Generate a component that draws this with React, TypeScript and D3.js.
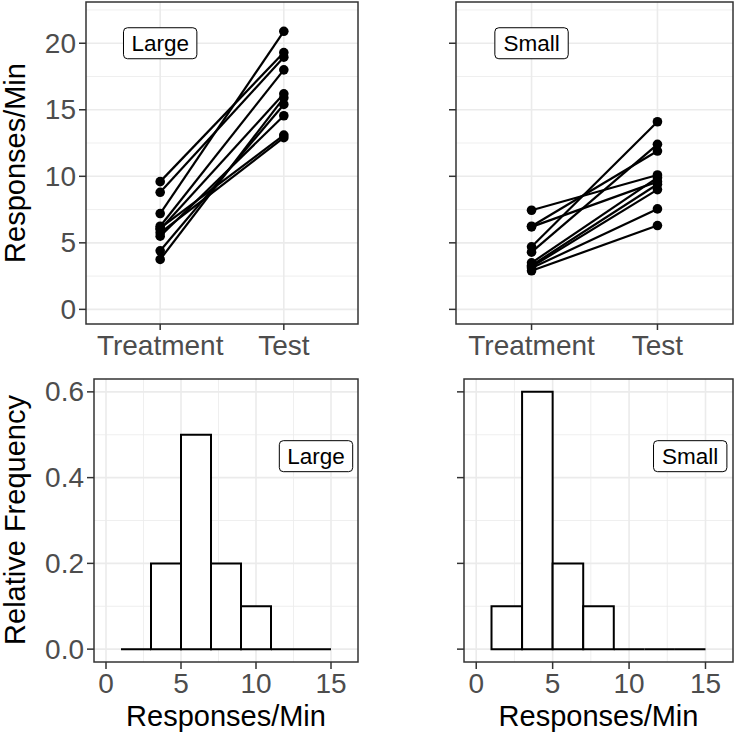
import React from "react";
import * as d3 from "d3";

const phases = ["Treatment", "Test"];
const groups = ["Large", "Small"];

const largeTreatment = [9.6, 8.8, 7.2, 6.25, 6.1, 6.0, 5.75, 5.5, 4.4, 3.75];
const largeTest = [19.3, 18.95, 20.9, 18.0, 13.1, 16.2, 12.9, 14.55, 15.4, 15.9];

const smallTreatment = [7.45, 6.25, 6.2, 4.7, 4.3, 3.5, 3.3, 3.2, 3.1, 2.9];
const smallTest = [10.1, 11.9, 9.6, 14.1, 12.4, 9.9, 9.4, 9.0, 7.55, 6.3];

const binEdges = [1, 3, 5, 7, 9, 11, 13, 15];

const topYTicks = [0, 5, 10, 15, 20];
const topYMinor = [2.5, 7.5, 12.5, 17.5, 22.5];
const histYTicks = [0, 0.2, 0.4, 0.6];
const histYMinor = [0.1, 0.3, 0.5];
const histXTicks = [0, 5, 10, 15];
const histXMinor = [2.5, 7.5, 12.5];

const FONT = "'Liberation Sans', Arial, Helvetica, sans-serif";
const GRID = "#EBEBEB";
const DARK = "#333333";
const TICKTXT = "#4D4D4D";
const TICK_FS = 28;
const TITLE_FS = 29;
const LABEL_FS = 22.5;

function Label({ x, y, text }: { x: number; y: number; text: string }) {
  const w = text.length * LABEL_FS * 0.51 + 16;
  const h = 31;
  return (
    <g>
      <rect x={x - w / 2} y={y - h / 2} width={w} height={h} rx={4} ry={4} fill="white" stroke="black" strokeWidth={1} />
      <text x={x} y={y} textAnchor="middle" dominantBaseline="central" fontSize={LABEL_FS} fontFamily={FONT} fill="black">
        {text}
      </text>
    </g>
  );
}

function PairPanel({ left, right, top, bottom, treat, test, label, showYLabels }: any) {
  const x = d3.scalePoint<string>().domain(phases).range([left, right]).padding(0.6);
  const y = d3.scaleLinear().domain([-1.1, 23.1]).range([bottom, top]);
  const pairs = treat.map((t: number, i: number) => [t, test[i]]);
  const line = d3.line<[string, number]>().x((d) => x(d[0])!).y((d) => y(d[1]));
  return (
    <g>
      <rect x={left} y={top} width={right - left} height={bottom - top} fill="white" />
      {topYMinor.map((v) => (
        <line key={"m" + v} x1={left} x2={right} y1={y(v)} y2={y(v)} stroke={GRID} strokeWidth={0.8} />
      ))}
      {topYTicks.map((v) => (
        <line key={"M" + v} x1={left} x2={right} y1={y(v)} y2={y(v)} stroke={GRID} strokeWidth={1.6} />
      ))}
      {phases.map((p) => (
        <line key={p} x1={x(p)} x2={x(p)} y1={top} y2={bottom} stroke={GRID} strokeWidth={1.6} />
      ))}
      {pairs.map((pr: number[], i: number) => (
        <path key={"l" + i} d={line([["Treatment", pr[0]], ["Test", pr[1]]])!} stroke="black" strokeWidth={2.2} fill="none" />
      ))}
      {pairs.map((pr: number[], i: number) => (
        <g key={"p" + i}>
          <circle cx={x("Treatment")} cy={y(pr[0])} r={4.8} fill="black" />
          <circle cx={x("Test")} cy={y(pr[1])} r={4.8} fill="black" />
        </g>
      ))}
      <Label x={x("Treatment")!} y={y(20)} text={label} />
      <rect x={left} y={top} width={right - left} height={bottom - top} fill="none" stroke={DARK} strokeWidth={1.5} />
      {topYTicks.map((v) => (
        <g key={"t" + v}>
          <line x1={left - 7} x2={left} y1={y(v)} y2={y(v)} stroke={DARK} strokeWidth={1.5} />
          {showYLabels && (
            <text x={left - 10} y={y(v)} textAnchor="end" dominantBaseline="central" fontSize={TICK_FS} fontFamily={FONT} fill={TICKTXT}>
              {v}
            </text>
          )}
        </g>
      ))}
      {phases.map((p) => (
        <g key={"xt" + p}>
          <line x1={x(p)} x2={x(p)} y1={bottom} y2={bottom + 6} stroke={DARK} strokeWidth={1.5} />
          <text x={x(p)} y={bottom + 31} textAnchor="middle" fontSize={TICK_FS} fontFamily={FONT} fill={TICKTXT}>
            {p}
          </text>
        </g>
      ))}
    </g>
  );
}

function HistPanel({ left, right, top, bottom, values, label, showYLabels }: any) {
  const x = d3.scaleLinear().domain([-0.8, 16.8]).range([left, right]);
  const y = d3.scaleLinear().domain([-0.03, 0.63]).range([bottom, top]);
  const bins = d3
    .bin()
    .domain([binEdges[0], binEdges[binEdges.length - 1]])
    .thresholds(binEdges.slice(1, -1))(values);
  const n = values.length;
  return (
    <g>
      <rect x={left} y={top} width={right - left} height={bottom - top} fill="white" />
      {histYMinor.map((v) => (
        <line key={"ym" + v} x1={left} x2={right} y1={y(v)} y2={y(v)} stroke={GRID} strokeWidth={0.8} />
      ))}
      {histXMinor.map((v) => (
        <line key={"xm" + v} x1={x(v)} x2={x(v)} y1={top} y2={bottom} stroke={GRID} strokeWidth={0.8} />
      ))}
      {histYTicks.map((v) => (
        <line key={"yM" + v} x1={left} x2={right} y1={y(v)} y2={y(v)} stroke={GRID} strokeWidth={1.6} />
      ))}
      {histXTicks.map((v) => (
        <line key={"xM" + v} x1={x(v)} x2={x(v)} y1={top} y2={bottom} stroke={GRID} strokeWidth={1.6} />
      ))}
      {bins.map((b, i) => {
        const h = b.length / n;
        const x0 = x(b.x0!);
        const x1 = x(b.x1!);
        const y0 = y(0);
        const yh = y(h);
        return (
          <path
            key={"b" + i}
            d={`M${x0},${y0}L${x0},${yh}L${x1},${yh}L${x1},${y0}Z`}
            fill="white"
            stroke="black"
            strokeWidth={2}
            strokeLinejoin="miter"
          />
        );
      })}
      <Label x={x(14)} y={y(0.45)} text={label} />
      <rect x={left} y={top} width={right - left} height={bottom - top} fill="none" stroke={DARK} strokeWidth={1.5} />
      {histYTicks.map((v) => (
        <g key={"t" + v}>
          <line x1={left - 7} x2={left} y1={y(v)} y2={y(v)} stroke={DARK} strokeWidth={1.5} />
          {showYLabels && (
            <text x={left - 10} y={y(v)} textAnchor="end" dominantBaseline="central" fontSize={TICK_FS} fontFamily={FONT} fill={TICKTXT}>
              {d3.format(".1f")(v)}
            </text>
          )}
        </g>
      ))}
      {histXTicks.map((v) => (
        <g key={"xt" + v}>
          <line x1={x(v)} x2={x(v)} y1={bottom} y2={bottom + 7} stroke={DARK} strokeWidth={1.5} />
          <text x={x(v)} y={bottom + 31} textAnchor="middle" fontSize={TICK_FS} fontFamily={FONT} fill={TICKTXT}>
            {v}
          </text>
        </g>
      ))}
      <text x={(left + right) / 2} y={bottom + 64} textAnchor="middle" fontSize={TITLE_FS} fontFamily={FONT} fill="black">
        Responses/Min
      </text>
    </g>
  );
}

export default function App() {
  return (
    <svg width={737} height={735} style={{ position: "absolute", left: 0, top: 0, background: "white" }}>
      <rect x={0} y={0} width={737} height={735} fill="white" />
      <PairPanel left={86} right={358} top={2} bottom={324} treat={largeTreatment} test={largeTest} label={groups[0]} showYLabels={true} />
      <PairPanel left={456} right={733} top={2} bottom={324} treat={smallTreatment} test={smallTest} label={groups[1]} showYLabels={false} />
      <HistPanel left={94} right={358} top={379} bottom={662} values={largeTreatment} label={groups[0]} showYLabels={true} />
      <HistPanel left={464} right={733} top={379} bottom={662} values={smallTreatment} label={groups[1]} showYLabels={false} />
      <text transform="translate(25,163) rotate(-90)" textAnchor="middle" fontSize={TITLE_FS} fontFamily={FONT} fill="black">
        Responses/Min
      </text>
      <text transform="translate(25,520) rotate(-90)" textAnchor="middle" fontSize={TITLE_FS} fontFamily={FONT} fill="black">
        Relative Frequency
      </text>
    </svg>
  );
}
